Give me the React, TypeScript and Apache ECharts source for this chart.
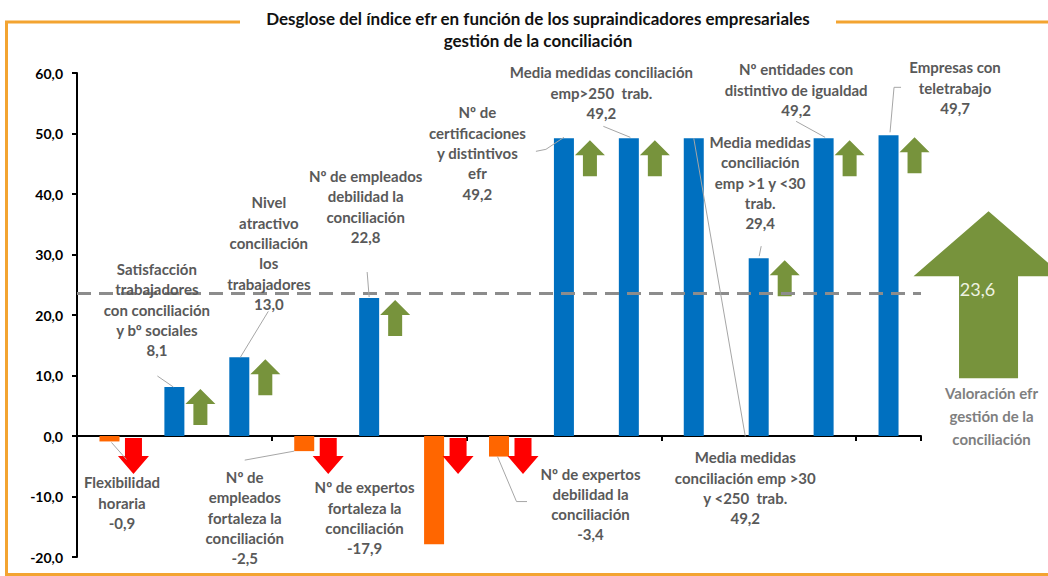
import React, { useEffect, useRef } from "react";
import * as echarts from "echarts";

// ---------- data ----------
const categories = [
  "Flexibilidad\nhoraria",
  "Satisfacción\ntrabajadores\ncon conciliación\ny bº sociales",
  "Nivel\natractivo\nconciliación\nlos\ntrabajadores",
  "Nº de\nempleados\nfortaleza la\nconciliación",
  "Nº de empleados\ndebilidad la\nconciliación",
  "Nº de expertos\nfortaleza la\nconciliación",
  "Nº de expertos\ndebilidad la\nconciliación",
  "Nº de\ncertificaciones\ny distintivos\nefr",
  "Media medidas conciliación\nemp>250  trab.",
  "Media medidas\nconciliación emp >30\ny <250  trab.",
  "Media medidas\nconciliación\nemp >1 y <30\ntrab.",
  "Nº entidades con\ndistintivo de igualdad",
  "Empresas con\nteletrabajo",
];
const values = [-0.9, 8.1, 13.0, -2.5, 22.8, -17.9, -3.4, 49.2, 49.2, 49.2, 29.4, 49.2, 49.7];
const arrowDirections = ["down", "up", "up", "down", "up", "down", "down", "up", "up", "none", "up", "up", "up"];
const overallValue = 23.6;
const overallLabel = "Valoración efr\ngestión de la\nconciliación";
const titleText =
  "Desglose del índice efr en función de los supraindicadores empresariales\ngestión de la conciliación";
const yMin = -20;
const yMax = 60;
const yInterval = 10;

// ---------- layout (pixel offsets relative to each bar end) ----------
const labelOffsets: [number, number][] = [
  [12.5, 41],
  [-17.5, -118],
  [29.5, -155],
  [-59.5, 26],
  [-3.5, -122],
  [-69.5, -57],
  [91.5, 17],
  [-86.5, -26],
  [-27.5, -66],
  [51.5, 319],
  [1.5, -116],
  [-27.5, -69],
  [66.5, -68],
];
const leaderLines: number[][][] = [
  [[2, 1], [17, 18]],
  [[-17, -11], [-1, 0]],
  [[29, -46], [1, 0]],
  [[-59.5, 9], [-10, 0]],
  [[-2, -26], [0, -1]],
  [],
  [[-1.5, 0], [17.5, 45], [28, 45]],
  [[-28, 13], [-18, 11], [0, -1]],
  [[-25.5, -12], [1.5, -1]],
  [[0, 0], [51.5, 298]],
  [[2.5, -12], [0.5, -2]],
  [[-27.5, -17], [1.5, -1]],
  [[1.5, -3], [5.5, -48], [12.5, -48]],
];

const FONT = "Lato, 'Open Sans', sans-serif";
const LINE_H = 20.3;
const BLUE = "#0070C0";
const ORANGE = "#FF6600";
const GREEN = "#77933C";
const RED = "#FF0000";
const LABEL_GRAY = "#595959";
const FRAME = "#F3A431";

const UP_ARROW = "path://M15,0 L30,15 L22,15 L22,36 L8,36 L8,15 L0,15 Z";
const DOWN_ARROW = "path://M7,0 L24,0 L24,18 L31,18 L15.5,36 L0,18 L7,18 Z";

const fmt = (v: number) => v.toFixed(1).replace(".", ",");

export default function App() {
  const ref = useRef<HTMLDivElement>(null);

  useEffect(() => {
    if (!ref.current) return;
    const chart = echarts.init(ref.current, undefined, { renderer: "svg" });

    const upData = values
      .map((v, i) => (arrowDirections[i] === "up" ? [i, v] : null))
      .filter((d) => d !== null);
    const downData = values
      .map((v, i) => (arrowDirections[i] === "down" ? [i, 0] : null))
      .filter((d) => d !== null);

    const option: any = {
      animation: false,
      grid: { left: 77, right: 127, top: 73, bottom: 19, containLabel: false },
      xAxis: {
        type: "category",
        data: categories,
        axisLine: { show: true, onZero: true, lineStyle: { color: "#000", width: 2 } },
        axisTick: { show: true, inside: false, length: 5, alignWithLabel: false, lineStyle: { color: "#000", width: 2 } },
        axisLabel: { show: false },
        splitLine: { show: false },
      },
      yAxis: {
        type: "value",
        min: yMin,
        max: yMax,
        interval: yInterval,
        axisLine: { show: true, lineStyle: { color: "#000", width: 2 } },
        axisTick: { show: true, inside: false, length: 5, lineStyle: { color: "#000", width: 2 } },
        axisLabel: {
          formatter: (v: number) => fmt(v),
          color: "#000",
          fontWeight: "bold",
          fontSize: 14,
          fontFamily: FONT,
          margin: 14,
        },
        splitLine: { show: false },
      },
      graphic: [
        {
          type: "text",
          x: 538,
          y: 7,
          style: {
            text: titleText,
            align: "center",
            verticalAlign: "top",
            fill: "#111",
            fontFamily: FONT,
            fontWeight: "bold",
            fontSize: 17,
            lineHeight: 22,
          },
        },
        { type: "line", shape: { x1: 5, y1: 22, x2: 240, y2: 22 }, style: { stroke: FRAME, lineWidth: 3 } },
        { type: "line", shape: { x1: 836, y1: 22, x2: 1048, y2: 22 }, style: { stroke: FRAME, lineWidth: 3 } },
        { type: "line", shape: { x1: 6.5, y1: 21, x2: 6.5, y2: 576 }, style: { stroke: FRAME, lineWidth: 3 } },
        { type: "line", shape: { x1: 5, y1: 574.5, x2: 1048, y2: 574.5 }, style: { stroke: FRAME, lineWidth: 3 } },
      ],
      series: [
        {
          type: "bar",
          data: values.map((v) => ({ value: v, itemStyle: { color: v < 0 ? ORANGE : BLUE } })),
          barWidth: 20,
          silent: true,
          z: 2,
          markLine: {
            silent: true,
            symbol: "none",
            label: { show: false },
            lineStyle: { type: [14, 8], color: "#8c8c8c", width: 3 },
            data: [{ yAxis: overallValue }],
          },
        },
        {
          type: "scatter",
          data: upData,
          symbol: UP_ARROW,
          symbolSize: [30, 36],
          symbolOffset: [26, 20],
          itemStyle: { color: GREEN, opacity: 1 },
          silent: true,
          z: 3,
        },
        {
          type: "scatter",
          data: downData,
          symbol: DOWN_ARROW,
          symbolSize: [31, 36],
          symbolOffset: [24, 20],
          itemStyle: { color: RED, opacity: 1 },
          silent: true,
          z: 3,
        },
        {
          type: "custom",
          data: values.map((v, i) => [i, v]),
          encode: { x: 0, y: 1 },
          silent: true,
          z: 5,
          renderItem: (params: any, api: any) => {
            const i = api.value(0) as number;
            const v = api.value(1) as number;
            const [x, y] = api.coord([i, v]);
            const [dx, dy] = labelOffsets[i];
            const children: any[] = [
              {
                type: "text",
                x: x + dx,
                y: y + dy - LINE_H / 2,
                style: {
                  text: categories[i] + "\n" + fmt(v),
                  align: "center",
                  verticalAlign: "top",
                  fill: LABEL_GRAY,
                  fontFamily: FONT,
                  fontWeight: "bold",
                  fontSize: 15,
                  lineHeight: LINE_H,
                },
              },
            ];
            const pts = leaderLines[i];
            if (pts.length) {
              children.push({
                type: "polyline",
                shape: { points: pts.map((p) => [x + p[0], y + p[1]]) },
                style: { stroke: "#a6a6a6", lineWidth: 1, fill: null },
              });
            }
            return { type: "group", children };
          },
        },
        {
          type: "custom",
          data: [[categories.length - 1, overallValue]],
          encode: { x: 0, y: 1 },
          silent: true,
          z: 4,
          renderItem: (params: any, api: any) => {
            const [x, y] = api.coord([api.value(0), api.value(1)]);
            const cx = x + 100;
            return {
              type: "group",
              children: [
                {
                  type: "polygon",
                  shape: {
                    points: [
                      [cx, y - 82],
                      [cx + 75, y - 17],
                      [cx + 29.5, y - 17],
                      [cx + 29.5, y + 85],
                      [cx - 29.5, y + 85],
                      [cx - 29.5, y - 17],
                      [cx - 75, y - 17],
                    ],
                  },
                  style: { fill: GREEN },
                },
                {
                  type: "text",
                  x: cx - 11,
                  y: y - 4,
                  style: {
                    text: fmt(api.value(1)),
                    align: "center",
                    verticalAlign: "middle",
                    fill: "#eef2e2",
                    fontFamily: FONT,
                    fontSize: 18,
                  },
                },
                {
                  type: "text",
                  x: cx + 3,
                  y: y + 100 - 11.5,
                  style: {
                    text: overallLabel,
                    align: "center",
                    verticalAlign: "top",
                    fill: "#7f7f7f",
                    fontFamily: FONT,
                    fontWeight: "bold",
                    fontSize: 15,
                    lineHeight: 23,
                  },
                },
              ],
            };
          },
        },
      ],
    };

    chart.setOption(option);
    return () => chart.dispose();
  }, []);

  return (
    <div
      ref={ref}
      style={{ position: "absolute", left: 0, top: 0, width: 1048, height: 576, background: "#fff" }}
    />
  );
}
